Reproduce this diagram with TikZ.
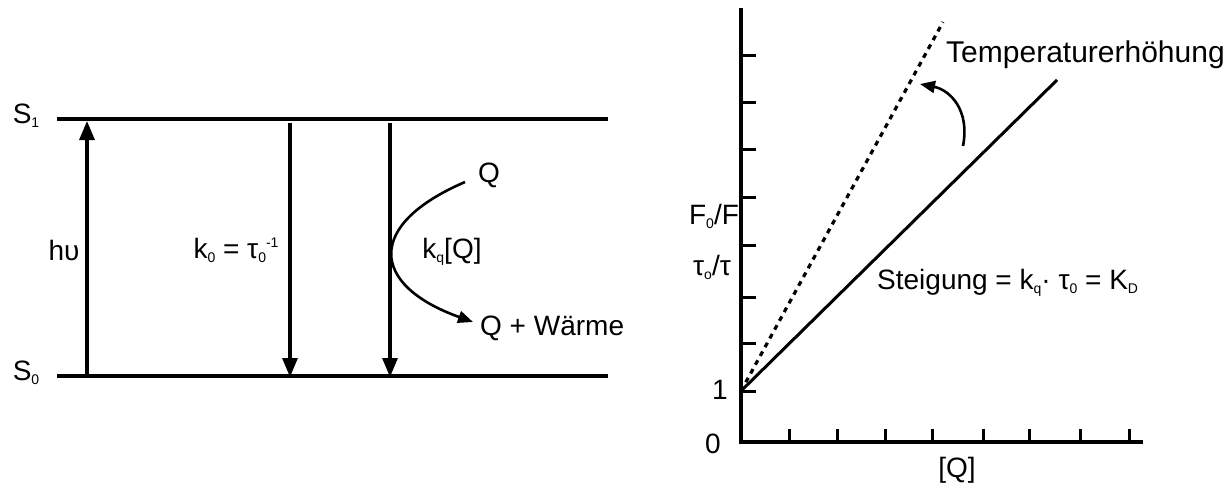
\documentclass[tikz,border=0pt]{standalone}
\usepackage{fontspec}
\setmainfont{Liberation Sans}
\usetikzlibrary{arrows.meta}
\newcommand{\lo}[1]{\raisebox{-4pt}{\fontsize{14}{14}\selectfont #1}}
\newcommand{\hi}[1]{\raisebox{11pt}{\fontsize{14}{14}\selectfont #1}}
\begin{document}
\begin{tikzpicture}[x=1pt,y=-1pt,
  lbl/.style={inner sep=0pt, font=\fontsize{28}{32}\selectfont},
  level/.style={line width=3.4pt},
  trans/.style={line width=3.2pt, -{Triangle[length=19pt,width=15pt]}},
  quench/.style={line width=2.6pt, -{Triangle[length=15pt,width=12pt]}},
  axis/.style={line width=3.4pt},
  tick/.style={line width=3pt},
  fit/.style={line width=3pt},
  dotfit/.style={line width=3.2pt, dash pattern=on 5pt off 5pt}]
\useasboundingbox (0,0) rectangle (1230,488);
% ---------- left: energy levels ----------
\coordinate (s1L) at (57,119); \coordinate (s1R) at (608,119);
\coordinate (s0L) at (57,376); \coordinate (s0R) at (608,376);
\draw[level] (s1L) -- (s1R);
\draw[level] (s0L) -- (s0R);
\node[lbl] (S1) at (26,116) {S\lo{1}};
\node[lbl] (S0) at (26,373) {S\lo{0}};
\coordinate (hvB) at (87,376); \coordinate (hvT) at (87,121);
\draw[trans] (hvB) -- (hvT);
\node[lbl] (hv) at (64,250) {hυ};
\coordinate (k0T) at (290,123); \coordinate (k0B) at (290,377);
\draw[trans] (k0T) -- (k0B);
\node[lbl] (k0) at (236,250) {k\lo{0} = τ\lo{0}\hi{-1}};
\coordinate (kqT) at (390,123); \coordinate (kqB) at (390,377);
\draw[trans] (kqT) -- (kqB);
\node[lbl] (Q) at (489,175) {Q};
\node[lbl] (kq) at (452,252) {k\lo{q}[Q]};
\node[lbl, anchor=west] (QW) at (480,328) {Q + Wärme};
\coordinate (qs) at (465,182); \coordinate (qe) at (473,322);
\draw[quench] (qs) .. controls (365,225) and (370,285) .. (qe);
% ---------- right: Stern-Volmer plot ----------
\coordinate (O) at (741,442);
\coordinate (ytop) at (741,8);
\coordinate (xend) at (1143,442);
\draw[axis] (ytop) -- (O) -- (xend);
\foreach \yy in {391,343,297,245,197,149,102,55}
  \draw[tick] (741,\yy) -- (756,\yy);
\foreach \xx in {789,837,885,932,983,1029,1080,1129}
  \draw[tick] (\xx,443) -- (\xx,429);
\node[lbl] (zero) at (713,444) {0};
\node[lbl] (one) at (720,390) {1};
\node[lbl] (FF) at (714,216) {F\lo{0}/F};
\node[lbl] (tt) at (712,267) {τ\lo{o}/τ};
\node[lbl] (Qx) at (957,470) {[Q]};
\coordinate (p1) at (741,391);
\coordinate (solidEnd) at (1057,80);
\coordinate (dotEnd) at (943,22);
\draw[fit] (p1) -- (solidEnd);
\draw[dotfit] (p1) -- (dotEnd);
\coordinate (ta) at (963,146); \coordinate (tb) at (920,84);
\draw[quench] (ta) .. controls (970,110) and (950,90) .. (tb);
\node[lbl, anchor=west, font=\fontsize{30}{34}\selectfont] (temp) at (946,55) {Temperaturerhöhung};
\node[lbl, anchor=west] (steig) at (877,283) {Steigung = k\lo{q}· τ\lo{0} = K\lo{D}};
\end{tikzpicture}
\end{document}
